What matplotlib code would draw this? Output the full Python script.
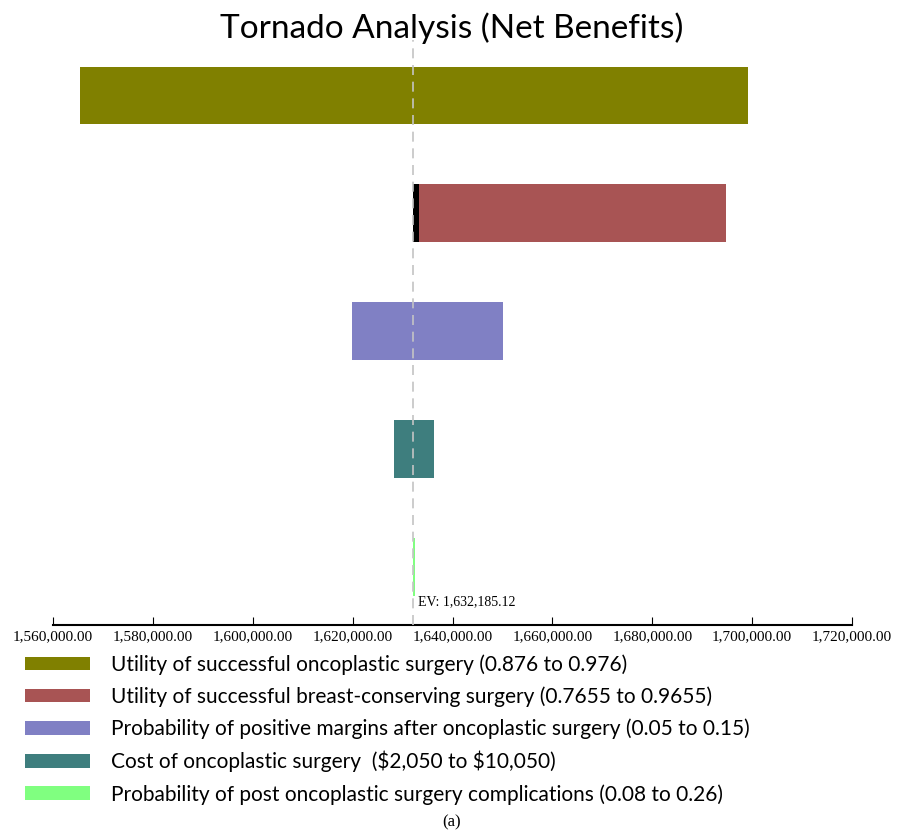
import numpy as np
import matplotlib
matplotlib.use("Agg")
from matplotlib import pyplot as plt
from matplotlib.ticker import FuncFormatter
from matplotlib.patches import Patch

# Tornado data (net benefits)
labels = [
    "Utility of successful oncoplastic surgery (0.876 to 0.976)",
    "Utility of successful breast-conserving surgery (0.7655 to 0.9655)",
    "Probability of positive margins after oncoplastic surgery (0.05 to 0.15)",
    "Cost of oncoplastic surgery  (\\$2,050 to \\$10,050)",
    "Probability of post oncoplastic surgery complications (0.08 to 0.26)",
]
low_vals = [1565400, 1633200, 1619900, 1628300, 1632000]
high_vals = [1699200, 1694800, 1650100, 1636300, 1632400]
colors = ["#808000", "#a85454", "#8080c4", "#3e7e7e", "#80ff80"]
ev = 1632185.12
xticks = np.arange(1560000, 1720001, 20000)

fig = plt.figure(figsize=(9.04, 8.4), dpi=100)
ax = fig.add_axes([53 / 904, 1 - 625 / 840, 799 / 904, 585 / 840])

ypos = np.arange(len(labels))
for i in ypos:
    lo, hi = low_vals[i], high_vals[i]
    ax.barh(i, hi - lo, left=lo, height=0.49, color=colors[i], zorder=2)
# small black segment between EV and the low end of the second bar
ax.barh(1, low_vals[1] - ev, left=ev, height=0.49, color="black", zorder=2)

ax.axvline(ev, color="#c4c4c4", linestyle=(0, (6, 4)), linewidth=1.2, zorder=3)
ax.annotate("EV: 1,632,185.12", xy=(ev, 4.29), xytext=(3, 0),
            textcoords="offset points", va="center", ha="left",
            family="Liberation Serif", fontsize=10)

ax.set_xlim(1560000, 1720000)
ax.set_ylim(4.49, -0.47)
ax.set_xticks(xticks)
ax.xaxis.set_major_formatter(FuncFormatter(lambda v, p: f"{v:,.2f}"))
ax.tick_params(axis="x", direction="in", length=6, width=0.8, pad=4,
               labelsize=11, labelfontfamily="Liberation Serif")
ax.set_yticks([])
for s in ["top", "left", "right"]:
    ax.spines[s].set_visible(False)
ax.spines["bottom"].set_linewidth(1.5)

fig.text(0.5, 1 - 28 / 840, "Tornado Analysis (Net Benefits)", ha="center",
         va="center", family="Lato", fontsize=24)

handles = [Patch(facecolor=c, edgecolor="none") for c in colors]
fig.legend(handles, labels, loc="upper left", bbox_to_anchor=(25 / 904, 1 - 654 / 840),
           frameon=False, prop={"family": "Lato", "size": 15},
           borderpad=0, borderaxespad=0,
           handlelength=3.1, handleheight=0.62, handletextpad=1.05, labelspacing=0.56)

fig.text(0.5, 1 - 822 / 840, "(a)", ha="center", va="center",
         family="Liberation Serif", fontsize=12)

fig.savefig("out.png", dpi=100)
